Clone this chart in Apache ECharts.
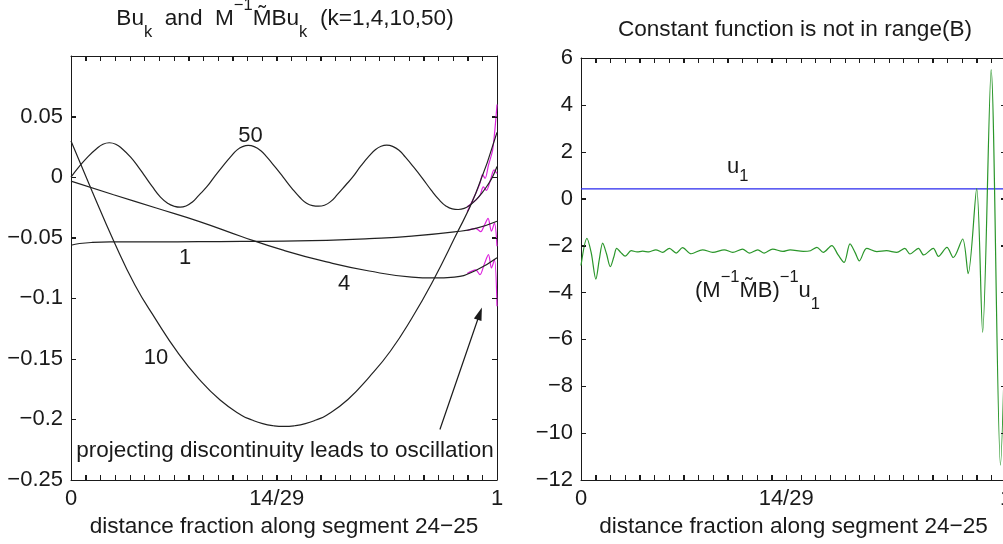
<!DOCTYPE html>
<html>
<head>
<meta charset="utf-8">
<title>Bu_k and constant function</title>
<script src="https://cdn.jsdelivr.net/npm/echarts@6/dist/echarts.min.js"></script>
<style>
  html, body { margin: 0; padding: 0; background: #fff; }
  #chart { width: 1003px; height: 544px; }
</style>
</head>
<body>
<div id="chart"></div>
<script>
// x values are fractions along the segment (0..1)
const xTickLabels = { 0: '0', 14: '14/29', 29: '1' };
const leftYTicks = [-0.25, -0.2, -0.15, -0.1, -0.05, 0, 0.05, 0.1];
const rightYTicks = [-12, -10, -8, -6, -4, -2, 0, 2, 4, 6];

// black curves: Bu_k
const buK1 = [[0, -0.0562], [0.02, -0.0548], [0.05, -0.0539], [0.1, -0.0535], [0.2, -0.0534], [0.3, -0.0533],
  [0.4, -0.0531], [0.5, -0.0528], [0.6, -0.0522], [0.7, -0.0508], [0.8, -0.0487], [0.9, -0.0452],
  [0.95, -0.0423], [1, -0.0364]];
const buK4 = [[0, -0.0033], [0.1, -0.0145], [0.2, -0.0255], [0.3, -0.0365], [0.4, -0.049], [0.5, -0.0605],
  [0.6, -0.07], [0.7, -0.0775], [0.8, -0.0825], [0.85, -0.0832], [0.9, -0.0825], [0.95, -0.077], [1, -0.0666]];
const buK10 = [[0, 0.0298], [0.05, -0.012], [0.1, -0.0525], [0.15, -0.089], [0.2, -0.118], [0.25, -0.1445],
  [0.3, -0.1665], [0.35, -0.184], [0.4, -0.1965], [0.425, -0.2005], [0.45, -0.2035], [0.475, -0.2052],
  [0.5, -0.2058], [0.525, -0.2052], [0.55, -0.2035], [0.575, -0.2005], [0.6, -0.1965], [0.65, -0.1835],
  [0.7, -0.165], [0.75, -0.1435], [0.8, -0.1165], [0.85, -0.0855], [0.9, -0.0505], [0.95, -0.0135], [1, 0.037]];
const buK50 = [[0, 0], [0.02, 0.009], [0.04, 0.017], [0.06, 0.0235], [0.075, 0.0272], [0.09, 0.0284],
  [0.105, 0.0272], [0.12, 0.0235], [0.14, 0.0165], [0.16, 0.0075], [0.173, 0.001], [0.19, -0.0075],
  [0.21, -0.0165], [0.228, -0.0218], [0.242, -0.024], [0.256, -0.0248], [0.27, -0.0238], [0.285, -0.0205],
  [0.3, -0.015], [0.32, -0.0075], [0.336, 0], [0.355, 0.0085], [0.375, 0.017], [0.39, 0.0225],
  [0.403, 0.0252], [0.416, 0.0262], [0.43, 0.0252], [0.445, 0.022], [0.46, 0.0165], [0.48, 0.008],
  [0.498, 0], [0.518, -0.009], [0.538, -0.017], [0.553, -0.0215], [0.567, -0.0235], [0.581, -0.024],
  [0.595, -0.0232], [0.61, -0.02], [0.625, -0.0145], [0.645, -0.0065], [0.661, 0], [0.68, 0.009],
  [0.7, 0.0175], [0.715, 0.0228], [0.728, 0.0255], [0.741, 0.0264], [0.755, 0.0254], [0.77, 0.0222],
  [0.785, 0.0165], [0.805, 0.008], [0.825, -0.001], [0.845, -0.0105], [0.865, -0.019], [0.88, -0.0238],
  [0.895, -0.0262], [0.909, -0.0267], [0.923, -0.0258], [0.937, -0.023], [0.95, -0.019], [0.965, -0.013],
  [0.98, -0.0055], [0.99, 0.0005], [1, 0.0088]];

// magenta curves: M^-1 M~ Bu_k, only where they leave the black ones
const mbuK1 = [[0.93, -0.044], [0.95, -0.0423], [0.962, -0.045], [0.97, -0.04], [0.979, -0.034],
  [0.987, -0.0446], [0.994, -0.038], [1, -0.057]];
const mbuK4 = [[0.93, -0.0795], [0.95, -0.0765], [0.96, -0.0805], [0.97, -0.072], [0.98, -0.0639],
  [0.987, -0.075], [0.994, -0.068], [1, -0.1066]];
const mbuK10 = [[0.93, -0.0285], [0.95, -0.0135], [0.96, -0.005], [0.966, 0.002], [0.972, -0.001],
  [0.98, 0.01], [0.99, 0.023], [1, 0.06]];
const mbuK50 = [[0.93, -0.0245], [0.95, -0.019], [0.96, -0.015], [0.968, -0.008], [0.975, -0.011],
  [0.985, -0.002], [0.993, 0.006], [1, 0.003]];

// right panel
const u1 = [[0, 0.42], [1, 0.42]];
const invU1 = [[0, -2.85], [0.014, -1.69], [0.024, -2.3], [0.035, -3.43], [0.043, -2.6], [0.051, -1.9],
  [0.06, -2.35], [0.069, -2.9], [0.077, -2.5], [0.084, -2.12], [0.094, -2.3], [0.104, -2.45],
  [0.118, -2.22], [0.132, -2.27], [0.145, -2.24], [0.16, -2.27], [0.176, -2.18], [0.192, -2.29],
  [0.208, -2.12], [0.224, -2.32], [0.239, -2.09], [0.259, -2.35], [0.286, -2.18], [0.31, -2.29],
  [0.337, -2.18], [0.357, -2.29], [0.38, -2.15], [0.396, -2.32], [0.416, -2.18], [0.431, -2.32],
  [0.451, -2.15], [0.475, -2.25], [0.492, -2.18], [0.523, -2.25], [0.54, -2.22], [0.555, -2.08],
  [0.57, -2.29], [0.59, -2.0], [0.605, -2.4], [0.619, -2.72], [0.633, -1.93], [0.645, -2.3],
  [0.655, -2.65], [0.672, -2.12], [0.696, -2.26], [0.719, -2.22], [0.743, -2.29], [0.762, -2.12],
  [0.774, -2.36], [0.794, -2.12], [0.806, -2.4], [0.829, -2.12], [0.841, -2.46], [0.861, -2.08],
  [0.876, -2.51], [0.898, -1.72], [0.911, -3.2], [0.931, 0.43], [0.945, -5.7], [0.965, 5.5],
  [0.987, -11.37], [1, -4.0]];

const FONT = '"Liberation Sans", Arial, Helvetica, sans-serif';
const INK = '#1a1a1a';
const N = 29; // x axis runs in 1/29 steps
const BIG = 22.6; // titles, axis names, notes
const TICK = 5;

const toAxis = pts => pts.map(([f, v]) => [f * N, v]);
const minus = s => String(s).replace('-', '\u2212');

const xAxisBase = (gridIndex, position) => ({
  type: 'value',
  gridIndex,
  position,
  min: 0,
  max: N,
  interval: 1,
  splitLine: { show: false },
  axisLine: { show: true, onZero: false, lineStyle: { color: INK, width: 1 } },
  axisTick: { show: true, inside: true, length: TICK, lineStyle: { color: INK, width: 1 } },
  axisLabel: {
    show: position === 'bottom',
    margin: 8,
    fontSize: 22,
    lineHeight: 22,
    fontFamily: FONT,
    color: INK,
    formatter: v => xTickLabels[Math.round(v)] || ''
  },
  name: position === 'bottom' ? 'distance fraction along segment 24\u221225' : '',
  nameLocation: 'middle',
  nameGap: 36,
  nameTextStyle: { fontSize: BIG, lineHeight: 22, fontFamily: FONT, color: INK }
});

const yAxisBase = (gridIndex, position, min, max, interval, formatter) => ({
  type: 'value',
  gridIndex,
  position,
  min,
  max,
  interval,
  splitLine: { show: false },
  axisLine: { show: true, onZero: false, lineStyle: { color: INK, width: 1 } },
  axisTick: { show: true, inside: true, length: TICK, lineStyle: { color: INK, width: 1 } },
  axisLabel: {
    show: position === 'left',
    margin: 8,
    fontSize: 22,
    fontFamily: FONT,
    color: INK,
    formatter
  }
});

const leftFmt = v => (Math.abs(v - 0.1) < 1e-9 ? '' : minus(+v.toFixed(2)));
const rightFmt = v => minus(Math.round(v));

const curve = (data, color, xi, yi, z, smooth) => ({
  type: 'line',
  xAxisIndex: xi,
  yAxisIndex: yi,
  data: toAxis(data),
  showSymbol: false,
  symbol: 'none',
  smooth,
  z,
  silent: true,
  lineStyle: { color, width: 1.2 },
  emphasis: { disabled: true }
});

// inward tick marks on all four frame sides, positioned by the axes' own scales
const tickMarks = (xi, yi, yTicks) => {
  const yMin = yTicks[0];
  const yMax = yTicks[yTicks.length - 1];
  const data = [];
  for (let k = 0; k <= N; k++) {
    data.push([k, yMin, 0, -1], [k, yMax, 0, 1]);
  }
  yTicks.forEach(v => data.push([0, v, 1, 0], [N, v, -1, 0]));
  return {
    type: 'custom',
    xAxisIndex: xi,
    yAxisIndex: yi,
    silent: true,
    clip: false,
    z: 5,
    encode: { x: 0, y: 1 },
    data,
    renderItem: (params, api) => {
      const p = api.coord([api.value(0), api.value(1)]);
      const dx = api.value(2);
      const dy = api.value(3);
      const x = dy !== 0 ? Math.round(p[0]) + 0.5 : p[0];
      const y = dx !== 0 ? Math.round(p[1]) + 0.5 : p[1];
      return {
        type: 'line',
        shape: { x1: x, y1: y, x2: x + dx * TICK, y2: y + dy * TICK },
        style: { stroke: INK, lineWidth: 1 }
      };
    }
  };
};

const MAGENTA = '#dd22dd';
const BLACK = '#222222';

const txt = (x, y, text, extra) => ({
  type: 'text',
  x,
  y,
  silent: true,
  style: Object.assign({
    text,
    fill: INK,
    fontSize: 22,
    fontFamily: FONT,
    align: 'center',
    verticalAlign: 'middle',
    textAlign: 'center',
    textVerticalAlign: 'middle'
  }, extra || {})
});

const subStyle = (lh, va) => ({ fontSize: 16.5, fontFamily: FONT, lineHeight: lh, verticalAlign: va, fill: INK, color: INK });

const chart = echarts.init(document.getElementById('chart'), null, { renderer: 'canvas' });

const option = {
  animation: false,
  backgroundColor: '#ffffff',
  textStyle: { fontFamily: FONT },
  title: [
    {
      text: 'Bu{sub|k}  and  M{sup|\u22121}M\u0303Bu{sub|k}  (k=1,4,10,50)',
      left: 285,
      top: -3,
      textAlign: 'center',
      padding: 0,
      textStyle: {
        fontSize: BIG, fontWeight: 'normal', fontFamily: FONT, color: INK, lineHeight: 44,
        rich: { sub: subStyle(16, 'bottom'), sup: subStyle(18, 'top') }
      }
    },
    {
      text: 'Constant function is not in range(B)',
      left: 795,
      top: 19,
      textAlign: 'center',
      padding: 0,
      textStyle: { fontSize: BIG, fontWeight: 'normal', fontFamily: FONT, color: INK, lineHeight: 22 }
    }
  ],
  grid: [
    { left: 71, top: 56, width: 426, height: 424, outerBoundsMode: 'none' },
    { left: 581, top: 58, width: 425, height: 422, outerBoundsMode: 'none' }
  ],
  xAxis: [
    xAxisBase(0, 'bottom'),
    xAxisBase(0, 'top'),
    xAxisBase(1, 'bottom'),
    xAxisBase(1, 'top')
  ],
  yAxis: [
    yAxisBase(0, 'left', -0.25, 0.1, 0.05, leftFmt),
    yAxisBase(0, 'right', -0.25, 0.1, 0.05, leftFmt),
    yAxisBase(1, 'left', -12, 6, 2, rightFmt),
    yAxisBase(1, 'right', -12, 6, 2, rightFmt)
  ],
  series: [
    curve(mbuK1, MAGENTA, 0, 0, 2, 0.3),
    curve(mbuK4, MAGENTA, 0, 0, 2, 0.3),
    curve(mbuK10, MAGENTA, 0, 0, 2, 0.3),
    curve(mbuK50, MAGENTA, 0, 0, 2, 0.3),
    curve(buK1, BLACK, 0, 0, 3, 0.5),
    curve(buK4, BLACK, 0, 0, 3, 0.5),
    Object.assign(curve(buK10, BLACK, 0, 0, 3, 0.5), {
      markLine: {
        silent: true,
        animation: false,
        symbol: ['none', 'triangle'],
        symbolSize: [8, 13],
        label: { show: false },
        emphasis: { disabled: true },
        lineStyle: { color: INK, width: 1.2, type: 'solid' },
        data: [[{ coord: [0.866 * N, -0.2083] }, { coord: [0.9596 * N, -0.1126] }]]
      }
    }),
    curve(buK50, BLACK, 0, 0, 3, 0.5),
    curve(u1, '#2828ee', 2, 2, 2, false),
    curve(invU1, '#2a962a', 2, 2, 3, 0.3),
    tickMarks(0, 0, leftYTicks),
    tickMarks(2, 2, rightYTicks)
  ],
  graphic: {
    elements: [
      txt(250.5, 136, '50'),
      txt(185, 258, '1'),
      txt(344, 283.5, '4'),
      txt(156, 358, '10'),
      txt(285, 450.5, 'projecting discontinuity leads to oscillation', { fontSize: 22.5 }),
      txt(727, 167.4, 'u{sub|1}', {
        align: 'left', textAlign: 'left', lineHeight: 36,
        rich: { sub: subStyle(16, 'bottom') }
      }),
      txt(695, 290.7, '(M{sup|\u22121}M\u0303B){sup|\u22121}u{sub|1}', {
        align: 'left', textAlign: 'left', lineHeight: 44,
        rich: { sup: subStyle(15.6, 'top'), sub: subStyle(30.4, 'bottom') }
      })
    ]
  }
};

chart.setOption(option);
</script>
</body>
</html>
